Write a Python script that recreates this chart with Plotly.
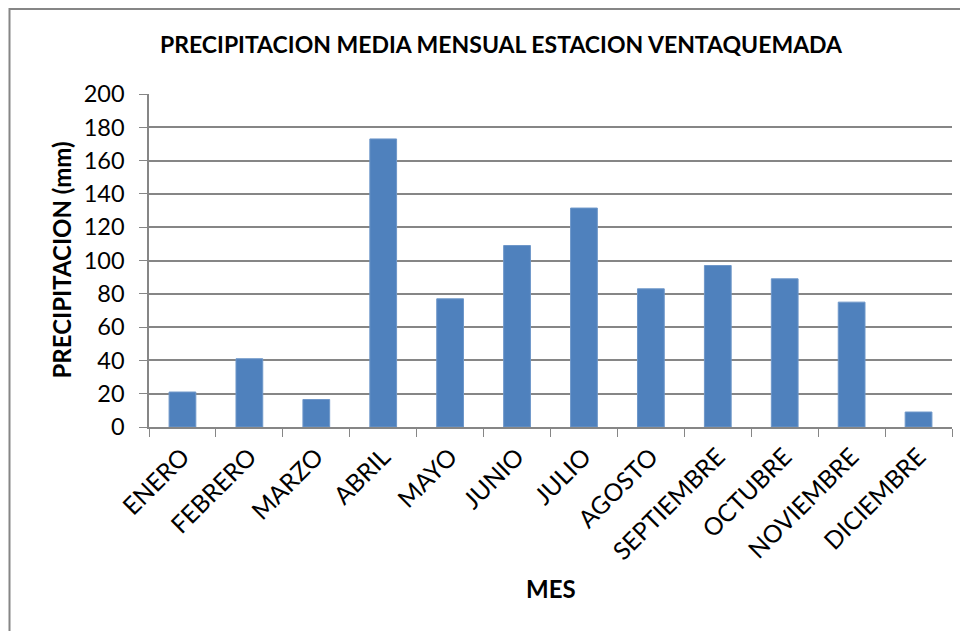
import plotly.graph_objects as go

meses = ['ENERO', 'FEBRERO', 'MARZO', 'ABRIL', 'MAYO', 'JUNIO', 'JULIO',
         'AGOSTO', 'SEPTIEMBRE', 'OCTUBRE', 'NOVIEMBRE', 'DICIEMBRE']
precipitacion = [21, 41, 16.5, 173, 77, 109, 131.5, 83, 97, 89, 75, 9]
y_ticks = [0, 20, 40, 60, 80, 100, 120, 140, 160, 180, 200]

FONT = 'Lato'
GRIS = '#868686'

fig = go.Figure(go.Bar(
    x=meses, y=precipitacion,
    marker=dict(color='#4F81BD', line=dict(color='#6E97C9', width=1)),
))

# page body has an 8px margin, so the figure is 960x623 placed at (8, 8)
W, H = 960, 623
L, R, T, B = 141, 16, 86, 204
pw, ph = W - L - R, H - T - B

fig.update_layout(
    width=W, height=H,
    margin=dict(l=L, r=R, t=T, b=B),
    paper_bgcolor='white', plot_bgcolor='white',
    bargap=0.6,
    showlegend=False,
    font=dict(family=FONT, color='black'),
    title=dict(text='<b>PRECIPITACION MEDIA MENSUAL ESTACION VENTAQUEMADA</b>',
               x=493 / W, xanchor='center', xref='container',
               y=1 - 37 / H, yanchor='middle',
               font=dict(size=23, family=FONT)),
    xaxis=dict(
        showline=True, linecolor=GRIS, linewidth=1.5,
        ticks='outside', tickson='boundaries', ticklen=8, tickcolor=GRIS,
        tickangle=-45, tickfont=dict(size=24.5), ticklabelstandoff=4,
        showgrid=False,
    ),
    yaxis=dict(
        range=[0, 200], tickvals=y_ticks,
        showline=True, linecolor=GRIS, linewidth=1.5,
        ticks='outside', ticklen=8, tickcolor=GRIS,
        tickfont=dict(size=23.5), ticklabelstandoff=10,
        showgrid=True, gridcolor=GRIS, gridwidth=1.5,
        zeroline=False,
    ),
)

# axis titles
fig.add_annotation(text='<b>PRECIPITACION (mm)</b>', xref='paper', yref='paper',
                   x=(53 - L) / pw, y=0.5, textangle=-90, showarrow=False,
                   xanchor='center', yanchor='middle', font=dict(size=24))
fig.add_annotation(text='<b>MES</b>', xref='paper', yref='paper',
                   x=0.5, y=-(580 - (H - B)) / ph, showarrow=False,
                   xanchor='center', yanchor='middle', font=dict(size=24))

# chart border (Excel-style frame)
fig.add_shape(type='rect', xref='paper', yref='paper',
              x0=(1.5 - L) / pw, x1=(W + 5 - L) / pw,
              y0=-(B + 5) / ph, y1=1 + (T - 1) / ph,
              line=dict(color=GRIS, width=2), layer='below')

fig.write_html("out.html")
